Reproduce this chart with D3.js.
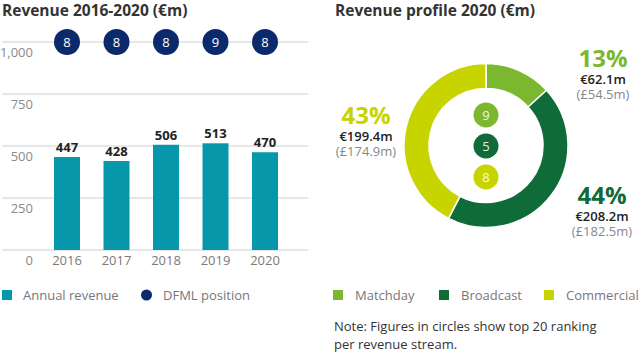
<!DOCTYPE html>
<html><head><meta charset="utf-8">
<script src="https://cdn.jsdelivr.net/npm/d3@7"></script>
<style>
body{margin:0;background:#fff;}
svg{display:block;font-family:"Open Sans",sans-serif;}
</style></head>
<body>
<svg id="c" width="640" height="355"></svg>
<script>
const years = ["2016","2017","2018","2019","2020"];
const revenue = [447, 428, 506, 513, 470];
const dfmlPosition = [8, 8, 8, 9, 8];
const yTicks = [0, 250, 500, 750, 1000];

const streams = ["Matchday", "Broadcast", "Commercial"];
const streamValues = [62.1, 208.2, 199.4];
const streamPct = ["13%", "44%", "43%"];
const streamEur = ["€62.1m", "€208.2m", "€199.4m"];
const streamGbp = ["(£54.5m)", "(£182.5m)", "(£174.9m)"];
const streamRank = [9, 5, 8];
const streamColors = ["#7cb82f", "#0f6b38", "#c7d400"];

const svg = d3.select("#c");

// ---------- Left: bar chart ----------
const teal = "#0797aa", navy = "#0b2a6b";
svg.append("text").attr("x", 2).attr("y", 16).attr("font-size", 15.5).attr("font-weight", 700)
  .attr("fill", "#333").text("Revenue 2016-2020 (€m)");

const y = d3.scaleLinear().domain([0, 1000]).range([250, 42]);
const x = d3.scaleBand().domain(years).range([54, 278]).paddingInner(0.475).paddingOuter(0);

const grid = svg.append("g");
grid.selectAll("line").data(yTicks).join("line")
  .attr("x1", 2).attr("x2", 308).attr("y1", d => y(d)).attr("y2", d => y(d))
  .attr("stroke", "#d0d0d0").attr("stroke-width", 1.2);
grid.selectAll("text").data(yTicks).join("text")
  .attr("x", 33).attr("y", d => y(d) + 15).attr("text-anchor", "end")
  .attr("font-size", 13).attr("fill", "#8a8a8a")
  .text(d => d3.format(",")(d));

svg.append("g").selectAll("rect").data(revenue).join("rect")
  .attr("x", (d, i) => x(years[i])).attr("width", x.bandwidth())
  .attr("y", d => y(d)).attr("height", d => y(0) - y(d)).attr("fill", teal);

svg.append("g").selectAll("text").data(revenue).join("text")
  .attr("x", (d, i) => x(years[i]) + x.bandwidth() / 2).attr("y", d => y(d) - 5)
  .attr("text-anchor", "middle").attr("font-size", 13).attr("font-weight", 700).attr("fill", "#222")
  .text(d => d);

svg.append("g").selectAll("text").data(years).join("text")
  .attr("x", d => x(d) + x.bandwidth() / 2).attr("y", 265)
  .attr("text-anchor", "middle").attr("font-size", 13).attr("fill", "#7a7a7a").text(d => d);

const pos = svg.append("g");
pos.selectAll("circle").data(dfmlPosition).join("circle")
  .attr("cx", (d, i) => x(years[i]) + x.bandwidth() / 2).attr("cy", y(1000)).attr("r", 13)
  .attr("fill", navy);
pos.selectAll("text").data(dfmlPosition).join("text")
  .attr("x", (d, i) => x(years[i]) + x.bandwidth() / 2).attr("y", y(1000) + 4.5)
  .attr("text-anchor", "middle").attr("font-size", 13).attr("fill", "#fff").text(d => d);

// legend left
svg.append("rect").attr("x", 2).attr("y", 290).attr("width", 10).attr("height", 10).attr("fill", teal);
svg.append("text").attr("x", 23).attr("y", 300).attr("font-size", 13).attr("fill", "#777").text("Annual revenue");
svg.append("circle").attr("cx", 146.5).attr("cy", 295).attr("r", 5.5).attr("fill", navy);
svg.append("text").attr("x", 163).attr("y", 300).attr("font-size", 13).attr("fill", "#777").text("DFML position");

// ---------- Right: donut ----------
svg.append("text").attr("x", 335).attr("y", 16).attr("font-size", 15.5).attr("font-weight", 700)
  .attr("fill", "#333").text("Revenue profile 2020 (€m)");

const cx = 486, cy = 145.5;
const pie = d3.pie().sort(null).value(d => d);
const arc = d3.arc().innerRadius(57).outerRadius(82);
const dg = svg.append("g").attr("transform", `translate(${cx},${cy})`);
dg.selectAll("path").data(pie(streamValues)).join("path")
  .attr("d", arc).attr("fill", (d, i) => streamColors[i])
  .attr("stroke", "#fff").attr("stroke-width", 1.5);

const rankY = [-30.5, 0.5, 31.5];
dg.selectAll("circle").data(streamRank).join("circle")
  .attr("cx", 0).attr("cy", (d, i) => rankY[i]).attr("r", 12.5)
  .attr("fill", (d, i) => streamColors[i]);
dg.selectAll("text").data(streamRank).join("text")
  .attr("x", 0).attr("y", (d, i) => rankY[i] + 4.5).attr("text-anchor", "middle")
  .attr("font-size", 13).attr("fill", "#fff").attr("fill-opacity", 0.9).text(d => d);

// callout labels
const labelPos = [[603, 67], [602, 204], [366, 124]];
const lab = svg.append("g");
streams.forEach((s, i) => {
  const [lx, ly] = labelPos[i];
  lab.append("text").attr("x", lx).attr("y", ly).attr("text-anchor", "middle")
    .attr("font-size", 24).attr("font-weight", 700).attr("fill", streamColors[i]).text(streamPct[i]);
  lab.append("text").attr("x", lx).attr("y", ly + 17).attr("text-anchor", "middle")
    .attr("font-size", 13).attr("font-weight", 600).attr("fill", "#222").text(streamEur[i]);
  lab.append("text").attr("x", lx).attr("y", ly + 32).attr("text-anchor", "middle")
    .attr("font-size", 13).attr("fill", "#888").text(streamGbp[i]);
});

// legend right
const legX = [333, 439, 544];
streams.forEach((s, i) => {
  svg.append("rect").attr("x", legX[i]).attr("y", 290).attr("width", 10).attr("height", 10).attr("fill", streamColors[i]);
  svg.append("text").attr("x", legX[i] + 22).attr("y", 300).attr("font-size", 13).attr("fill", "#777").text(s);
});

svg.append("text").attr("x", 334).attr("y", 331).attr("font-size", 13).attr("fill", "#333")
  .text("Note: Figures in circles show top 20 ranking");
svg.append("text").attr("x", 334).attr("y", 349).attr("font-size", 13).attr("fill", "#333")
  .text("per revenue stream.");
</script>
</body></html>
